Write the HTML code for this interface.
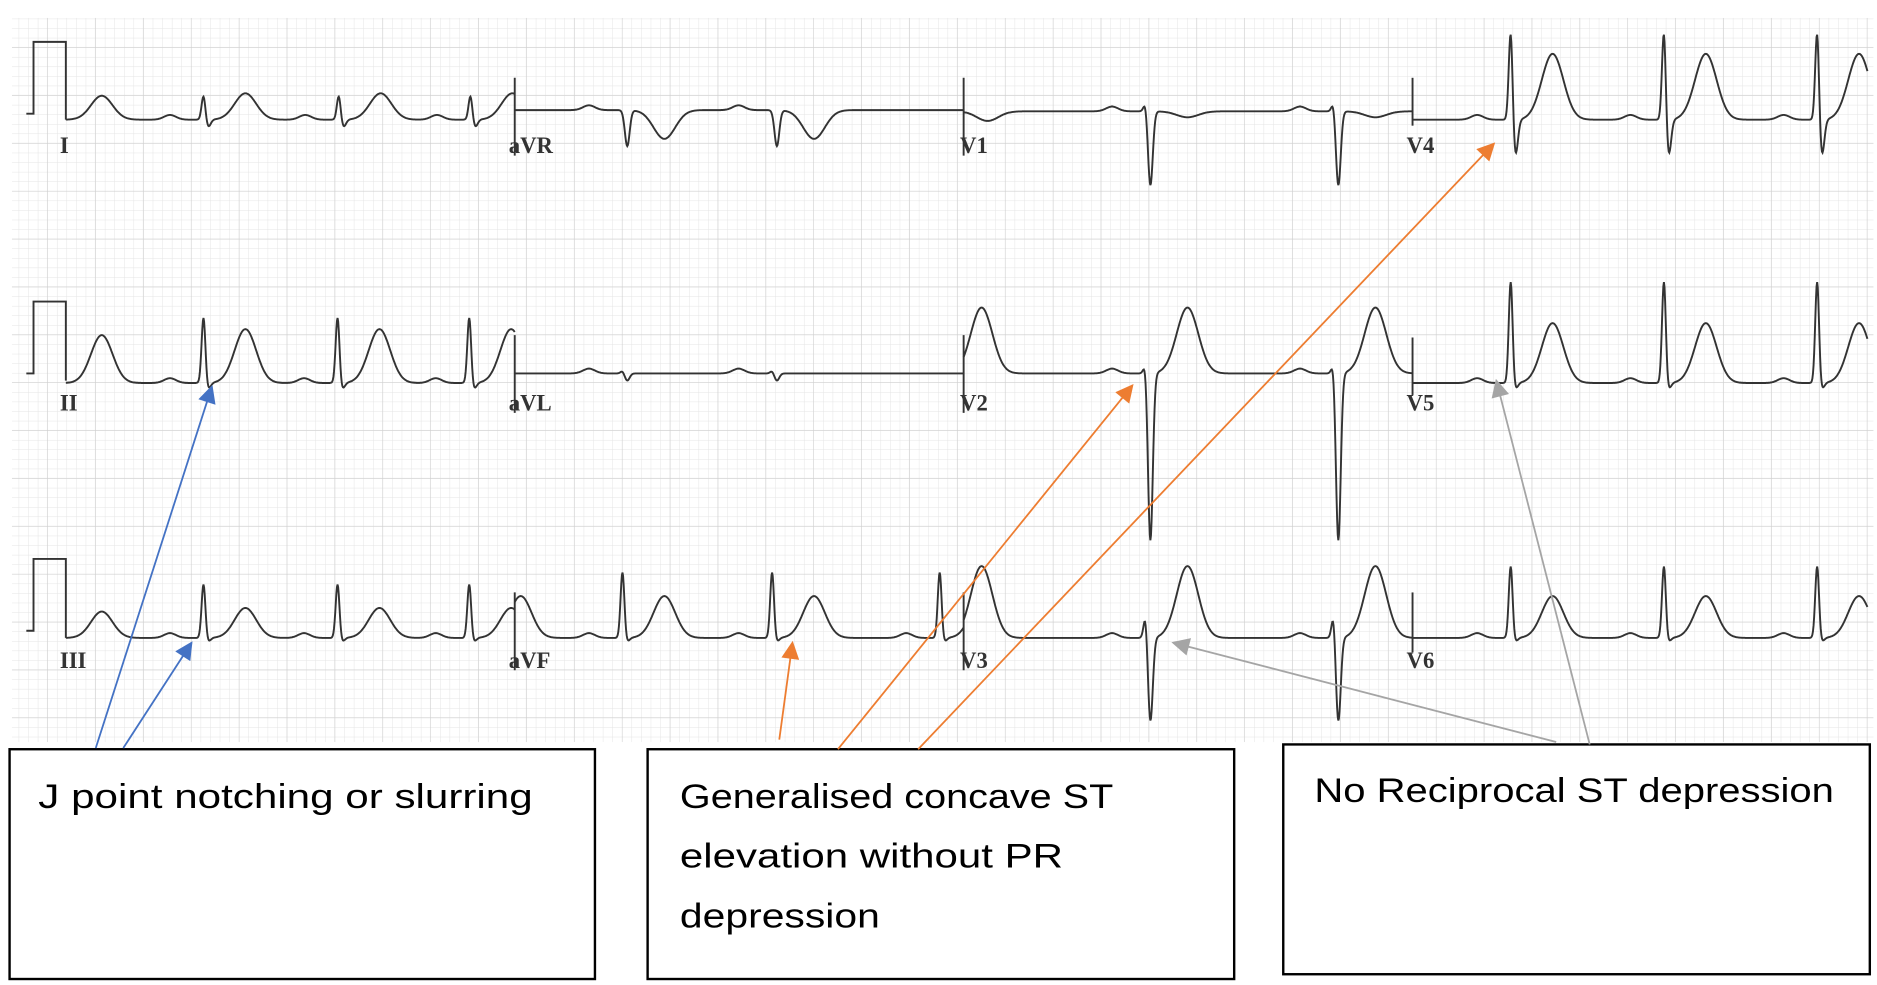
<!DOCTYPE html>
<html><head><meta charset="utf-8"><style>
html,body{margin:0;padding:0;background:#fff;}
svg{display:block;}
</style></head><body>
<svg id="s" width="1877" height="985" viewBox="0 0 1568 823" preserveAspectRatio="none" xmlns="http://www.w3.org/2000/svg">
<defs>
<pattern id="minor" width="8" height="8" patternUnits="userSpaceOnUse"><path d="M8 0V8M0 8H8" stroke="#e4e4e4" stroke-width="0.8" fill="none"/></pattern>
<pattern id="major" width="40" height="40" patternUnits="userSpaceOnUse"><path d="M40 0V40M0 40H40" stroke="#cfcfcf" stroke-width="1" fill="none"/></pattern>
<marker id="mb" viewBox="0 0 10 10" refX="9" refY="5" markerWidth="11" markerHeight="10" orient="auto" markerUnits="strokeWidth"><path d="M0 0L10 5L0 10z" fill="#4472c4"/></marker>
<marker id="mo" viewBox="0 0 10 10" refX="9" refY="5" markerWidth="11" markerHeight="10" orient="auto" markerUnits="strokeWidth"><path d="M0 0L10 5L0 10z" fill="#ed7d31"/></marker>
<marker id="mg" viewBox="0 0 10 10" refX="9" refY="5" markerWidth="11" markerHeight="10" orient="auto" markerUnits="strokeWidth"><path d="M0 0L10 5L0 10z" fill="#a5a5a5"/></marker>
</defs>
<rect x="10" y="15" width="1555" height="605" fill="url(#minor)"/>
<rect x="10" y="15" width="1555" height="605" fill="url(#major)"/>
<g id="ecg" fill="none" stroke="#333" stroke-width="1.6"></g>
<g font-family="Liberation Serif, serif" font-size="19" font-weight="bold" fill="#333">
<text x="50" y="128">I</text><text x="425" y="128">aVR</text><text x="802" y="128">V1</text><text x="1175" y="128">V4</text>
<text x="50" y="343">II</text><text x="425" y="343">aVL</text><text x="802" y="343">V2</text><text x="1175" y="343">V5</text>
<text x="50" y="558">III</text><text x="425" y="558">aVF</text><text x="802" y="558">V3</text><text x="1175" y="558">V6</text>
</g>
<g fill="#fff" stroke="#000" stroke-width="2">
<rect x="8" y="626" width="489" height="192"/>
<rect x="541" y="626" width="490" height="192"/>
<rect x="1072" y="622" width="490" height="192"/>
</g>
<g font-family="Liberation Sans, sans-serif" font-size="29" fill="#000">
<text x="32" y="675" textLength="413" lengthAdjust="spacingAndGlyphs">J point notching or slurring</text>
<text x="568" y="675" textLength="362" lengthAdjust="spacingAndGlyphs">Generalised concave ST</text>
<text x="568" y="725" textLength="320" lengthAdjust="spacingAndGlyphs">elevation without PR</text>
<text x="568" y="775" textLength="167" lengthAdjust="spacingAndGlyphs">depression</text>
<text x="1098" y="670" textLength="434" lengthAdjust="spacingAndGlyphs">No Reciprocal ST depression</text>
</g>
<g stroke-width="1.5" fill="none">
<line x1="80" y1="625" x2="177" y2="323" stroke="#4472c4" marker-end="url(#mb)"/>
<line x1="103" y1="625" x2="160" y2="537" stroke="#4472c4" marker-end="url(#mb)"/>
<line x1="651" y1="618" x2="662" y2="537" stroke="#ed7d31" marker-end="url(#mo)"/>
<line x1="700" y1="626" x2="946" y2="322" stroke="#ed7d31" marker-end="url(#mo)"/>
<line x1="767" y1="626" x2="1248" y2="120" stroke="#ed7d31" marker-end="url(#mo)"/>
<line x1="1300" y1="620" x2="980" y2="537" stroke="#a5a5a5" marker-end="url(#mg)"/>
<line x1="1328" y1="622" x2="1250" y2="318" stroke="#a5a5a5" marker-end="url(#mg)"/>
</g>
</svg>
<script>
(function(){
var g=document.getElementById('ecg');
function ga(x,c,w){var d=(x-c)/w;return Math.exp(-d*d/2);}
function seg(x0,x1,base,beats){
  var d='';
  for(var x=x0;x<=x1;x+=0.5){
    var y=base;
    beats.forEach(function(b){
      y-= (b.p||4)*ga(x,b.x-28,5) + b.r*ga(x,b.x,1.6) - b.s*ga(x,b.x+4,2) + b.t*ga(x,b.x+(b.to||35),b.tw||9);
    });
    d+=(d?'L':'M')+x.toFixed(1)+' '+y.toFixed(1);
  }
  var p=document.createElementNS('http://www.w3.org/2000/svg','path');
  p.setAttribute('d',d);g.appendChild(p);
}
function L(d){var p=document.createElementNS('http://www.w3.org/2000/svg','path');p.setAttribute('d',d);g.appendChild(p);}
function B(xs,r,s,t,extra){return xs.map(function(x){var o={x:x,r:r,s:s,t:t};for(var k in extra)o[k]=extra[k];return o;});}
L('M22 95L28 95L28 35L55 35L55 100');
L('M22 312L28 312L28 252L55 252L55 318');
L('M22 527L28 527L28 467L55 467L55 533');
seg(55,430,100,[{x:50,r:0,s:0,t:20,p:0}].concat(B([170,283,393],20,6,22)));
seg(430,805,92,B([520,645],0,30,-24));
seg(805,1180,93,B([957,1114],8,62,-5).concat([{x:790,r:0,s:0,t:-8,p:0}]));
seg(1180,1560,100,B([1262,1390,1518],75,30,55));
seg(55,430,320,[{x:50,r:0,s:0,t:40,p:0}].concat(B([170,282,392],55,5,45)));
seg(430,805,312,B([520,645],2,6,0));
seg(805,1180,312,B([957,1114],10,140,55).concat([{x:785,r:0,s:0,t:55,p:0}]));
seg(1180,1560,320,B([1262,1390,1518],85,5,50));
seg(55,430,533,[{x:50,r:0,s:0,t:22,p:0}].concat(B([170,282,392],45,3,25)));
seg(430,805,533,B([400,520,645,785],55,3,35));
seg(805,1180,533,B([785,957,1114],20,70,60));
seg(1180,1560,533,B([1262,1390,1518],60,3,35));
[[430,65,130],[805,65,130],[1180,65,105],[430,280,345],[805,280,345],[1180,282,330],[430,495,560],[805,495,560],[1180,495,545]].forEach(function(a){L('M'+a[0]+' '+a[1]+'V'+a[2]);});
})();
</script>
</body></html>
